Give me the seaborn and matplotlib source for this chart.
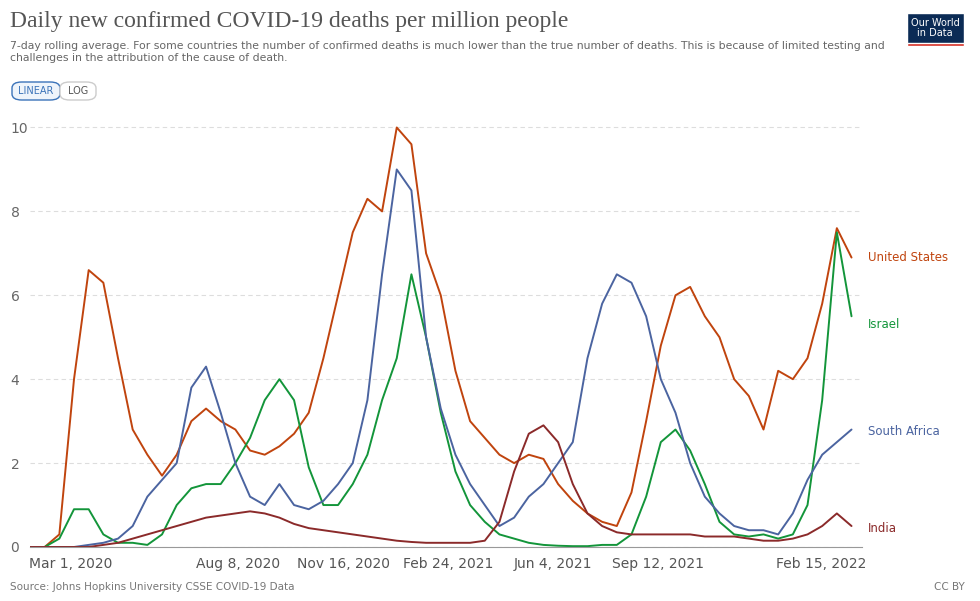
import matplotlib
matplotlib.use("Agg")
import matplotlib.pyplot as plt
import seaborn as sns
import pandas as pd
import numpy as np
from matplotlib.patches import FancyBboxPatch, Rectangle

us = [0,0,0.3,4,6.6,6.3,4.5,2.8,2.2,1.7,2.2,3.0,3.3,3.0,2.8,2.3,2.2,2.4,2.7,3.2,4.5,6.0,7.5,8.3,8.0,10.0,9.6,7.0,6.0,4.2,3.0,2.6,2.2,2.0,2.2,2.1,1.5,1.1,0.8,0.6,0.5,1.3,3.0,4.8,6.0,6.2,5.5,5.0,4.0,3.6,2.8,4.2,4.0,4.5,5.8,7.6,6.9]
israel = [0,0,0.2,0.9,0.9,0.3,0.1,0.1,0.05,0.3,1.0,1.4,1.5,1.5,2.0,2.6,3.5,4.0,3.5,1.9,1.0,1.0,1.5,2.2,3.5,4.5,6.5,5.0,3.2,1.8,1.0,0.6,0.3,0.2,0.1,0.05,0.03,0.02,0.02,0.05,0.05,0.3,1.2,2.5,2.8,2.3,1.5,0.6,0.3,0.25,0.3,0.2,0.3,1.0,3.5,7.5,5.5]
south_africa = [0,0,0,0,0.05,0.1,0.2,0.5,1.2,1.6,2.0,3.8,4.3,3.2,2.0,1.2,1.0,1.5,1.0,0.9,1.1,1.5,2.0,3.5,6.5,9.0,8.5,5.0,3.3,2.2,1.5,1.0,0.5,0.7,1.2,1.5,2.0,2.5,4.5,5.8,6.5,6.3,5.5,4.0,3.2,2.0,1.2,0.8,0.5,0.4,0.4,0.3,0.8,1.6,2.2,2.5,2.8]
india = [0,0,0,0,0,0.05,0.1,0.2,0.3,0.4,0.5,0.6,0.7,0.75,0.8,0.85,0.8,0.7,0.55,0.45,0.4,0.35,0.3,0.25,0.2,0.15,0.12,0.1,0.1,0.1,0.1,0.15,0.6,1.8,2.7,2.9,2.5,1.5,0.8,0.5,0.35,0.3,0.3,0.3,0.3,0.3,0.25,0.25,0.25,0.2,0.15,0.15,0.2,0.3,0.5,0.8,0.5]
series = {"United States": us, "Israel": israel, "South Africa": south_africa, "India": india}
colors = {"United States": "#c0440e", "Israel": "#13953a", "South Africa": "#4b64a0", "India": "#8b2a2a"}
tick_dates = ["2020-03-01","2020-08-08","2020-11-16","2021-02-24","2021-06-04","2021-09-12","2022-02-15"]
tick_labels = ["Mar 1, 2020","Aug 8, 2020","Nov 16, 2020","Feb 24, 2021","Jun 4, 2021","Sep 12, 2021","Feb 15, 2022"]

rows = []
for name, vals in series.items():
    d = pd.date_range("2020-01-22", periods=len(vals), freq="14D")
    rows += [dict(date=a, value=v, country=name) for a, v in zip(d, vals)]
df = pd.DataFrame(rows)

sns.set_style("white")
fig = plt.figure(figsize=(9.8, 6.01), dpi=100)
ax = fig.add_axes([30/980, 54/601, 832/980, 430/601])
sns.lineplot(data=df, x="date", y="value", hue="country", palette=colors, ax=ax, legend=False, linewidth=1.4)
ax.set_xlim(pd.Timestamp("2020-01-22"), pd.Timestamp("2022-03-26"))
ax.set_ylim(0, 10.25)
ax.set_yticks([0,2,4,6,8,10])
ax.set_xticks(pd.to_datetime(tick_dates))
ax.set_xticklabels(tick_labels)
ax.set_xlabel(""); ax.set_ylabel("")
for s in ["top","right","left"]:
    ax.spines[s].set_visible(False)
ax.spines["bottom"].set_color("#999999")
ax.grid(axis="y", color="#dddddd", linestyle=(0,(4,3)))
ax.tick_params(axis="y", colors="#666666", labelsize=10, length=0, pad=14)
ax.tick_params(axis="x", length=4, colors="#999999", labelcolor="#555555", labelsize=10)
for lab in ax.get_yticklabels():
    lab.set_horizontalalignment("left")
last = {"United States": 6.9, "Israel": 5.3, "South Africa": 2.75, "India": 0.45}
for name, y in last.items():
    ax.annotate(name, xy=(1.0, y/10.25), xycoords="axes fraction", xytext=(4, 0), textcoords="offset points",
                color=colors[name], fontsize=8.5, va="center")

fig.text(10/980, 1-22/601, "Daily new confirmed COVID-19 deaths per million people", fontsize=17,
         color="#555555", family="Liberation Serif", va="center")
fig.text(10/980, 1-52/601, "7-day rolling average. For some countries the number of confirmed deaths is much lower than the true number of deaths. This is because of limited testing and\nchallenges in the attribution of the cause of death.",
         fontsize=7.8, color="#666666", va="center", linespacing=1.25)
fig.patches.append(FancyBboxPatch((12/980, 1-100/601), 48/980, 18/601, boxstyle="round,pad=0,rounding_size=0.01",
                   transform=fig.transFigure, facecolor="#eef4fb", edgecolor="#3b73b9", lw=1))
fig.text(36/980, 1-91/601, "LINEAR", fontsize=7, color="#3b73b9", ha="center", va="center")
fig.patches.append(FancyBboxPatch((60/980, 1-100/601), 36/980, 18/601, boxstyle="round,pad=0,rounding_size=0.01",
                   transform=fig.transFigure, facecolor="white", edgecolor="#cccccc", lw=1))
fig.text(78/980, 1-91/601, "LOG", fontsize=7, color="#555555", ha="center", va="center")
fig.patches.append(Rectangle((907/980, 1-46/601), 57/980, 33/601, transform=fig.transFigure, facecolor="#0b2b55"))
fig.patches.append(Rectangle((907/980, 1-46/601), 57/980, 3/601, transform=fig.transFigure, facecolor="#d42b21"))
fig.text(935/980, 1-28/601, "Our World\nin Data", fontsize=7, color="white", ha="center", va="center", linespacing=1.0)
fig.text(10/980, 1-587/601, "Source: Johns Hopkins University CSSE COVID-19 Data", fontsize=7.5, color="#777777", va="center")
fig.text(965/980, 1-587/601, "CC BY", fontsize=7.5, color="#777777", va="center", ha="right")
fig.savefig("out.png", dpi=100)
